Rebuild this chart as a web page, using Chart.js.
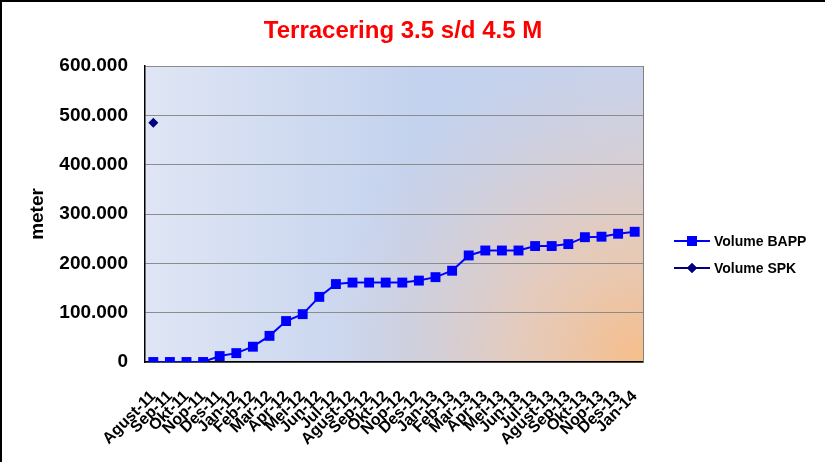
<!DOCTYPE html>
<html>
<head>
<meta charset="utf-8">
<script src="https://cdn.jsdelivr.net/npm/chart.js@4.4.0/dist/chart.umd.min.js"></script>
<style>
  html, body { margin: 0; padding: 0; background: #fff; }
  canvas { display: block; }
</style>
</head>
<body>
<canvas id="c" width="825" height="462"></canvas>
<script>
const categories = ["Agust-11","Sep-11","Okt-11","Nop-11","Des-11","Jan-12","Feb-12","Mar-12","Apr-12","Mei-12","Jun-12","Jul-12","Agust-12","Sep-12","Okt-12","Nop-12","Des-12","Jan-13","Feb-13","Mar-13","Apr-13","Mei-13","Jun-13","Jul-13","Agust-13","Sep-13","Okt-13","Nop-13","Des-13","Jan-14"];
const volumeBAPP = [0,0,0,0,12000,18000,31000,53000,83000,97000,132000,158000,161000,161000,161000,161000,165000,172000,185000,216000,226000,226000,226000,235000,235000,239000,253000,254000,260000,264000];
const volumeSPK = [485000,null,null,null,null,null,null,null,null,null,null,null,null,null,null,null,null,null,null,null,null,null,null,null,null,null,null,null,null,null];
const yTicks = [0,100000,200000,300000,400000,500000,600000];
const titleText = "Terracering 3.5 s/d 4.5 M";
const yTitle = "meter";

const FONT = "'Liberation Sans', Arial, sans-serif";

function fmt(v) {
  return String(v).replace(/\B(?=(\d{3})+(?!\d))/g, ".");
}

const bgPlugin = {
  id: 'bg',
  beforeDraw(chart) {
    const {ctx, chartArea: a} = chart;
    ctx.save();
    const lg = ctx.createLinearGradient(a.left, 0, a.right, 0);
    lg.addColorStop(0, '#dfe5f4');
    lg.addColorStop(0.55, '#c3d2ee');
    lg.addColorStop(1, '#c6d3ee');
    ctx.fillStyle = lg;
    ctx.fillRect(a.left, a.top, a.right - a.left, a.bottom - a.top);
    const rg = ctx.createRadialGradient(a.right, a.bottom, 0, a.right, a.bottom, 320);
    rg.addColorStop(0, 'rgba(247,189,136,1)');
    rg.addColorStop(0.4, 'rgba(238,200,172,0.75)');
    rg.addColorStop(1, 'rgba(225,205,205,0)');
    ctx.fillStyle = rg;
    ctx.fillRect(a.left, a.top, a.right - a.left, a.bottom - a.top);
    ctx.restore();
  },
  afterDatasetsDraw(chart) {
    const {ctx, chartArea: a} = chart;
    ctx.save();
    ctx.strokeStyle = '#808080';
    ctx.lineWidth = 1;
    ctx.beginPath();
    ctx.moveTo(a.right + 0.5, a.top);
    ctx.lineTo(a.right + 0.5, a.bottom);
    ctx.stroke();
    ctx.restore();
  },
  afterDraw(chart) {
    const ctx = chart.ctx;
    ctx.save();
    // frame
    ctx.fillStyle = '#000';
    ctx.fillRect(0, 0, 825, 2);
    ctx.fillRect(0, 0, 2, 462);
    // title
    ctx.fillStyle = '#ff0000';
    ctx.font = 'bold 24px ' + FONT;
    ctx.textAlign = 'center';
    ctx.textBaseline = 'middle';
    ctx.fillText(titleText, 403, 31);
    // legend
    const items = [
      {label: chart.data.datasets[0].label, color: '#0000ff', style: 'rect', r: 7, y: 241},
      {label: chart.data.datasets[1].label, color: '#000080', style: 'rectRot', r: 5, y: 268}
    ];
    items.forEach(it => {
      ctx.strokeStyle = it.color;
      ctx.lineWidth = 2;
      ctx.beginPath();
      ctx.moveTo(674, it.y);
      ctx.lineTo(710, it.y);
      ctx.stroke();
      ctx.fillStyle = it.color;
      Chart.helpers.drawPoint(ctx, {pointStyle: it.style, radius: it.r, borderWidth: 0}, 692, it.y);
      ctx.fill();
      ctx.fillStyle = '#000';
      ctx.font = 'bold 14px ' + FONT;
      ctx.textAlign = 'left';
      ctx.textBaseline = 'middle';
      ctx.fillText(it.label, 714, it.y + 1);
    });
    ctx.restore();
  }
};

new Chart(document.getElementById('c'), {
  type: 'line',
  data: {
    labels: categories,
    datasets: [
      {
        label: 'Volume BAPP',
        data: volumeBAPP,
        borderColor: '#0000ff',
        backgroundColor: '#0000ff',
        borderWidth: 2,
        pointStyle: 'rect',
        pointRadius: 7,
        pointBorderWidth: 0,
        pointBackgroundColor: '#0000ff',
        tension: 0,
        fill: false
      },
      {
        label: 'Volume SPK',
        data: volumeSPK,
        borderColor: '#000080',
        backgroundColor: '#000080',
        borderWidth: 2,
        pointStyle: 'rectRot',
        pointRadius: 5,
        pointBorderWidth: 0,
        pointBackgroundColor: '#000080',
        spanGaps: false,
        fill: false
      }
    ]
  },
  options: {
    responsive: false,
    animation: false,
    devicePixelRatio: 1,
    layout: { padding: { left: 0, right: 182, top: 66, bottom: 0 } },
    plugins: {
      legend: { display: false },
      tooltip: { enabled: false },
      title: { display: false }
    },
    scales: {
      x: {
        type: 'category',
        offset: true,
        grid: { display: false, drawTicks: false },
        border: { display: true, color: '#000', width: 1.5 },
        ticks: {
          autoSkip: false,
          maxRotation: 45,
          minRotation: 45,
          padding: 25,
          color: '#000',
          font: { family: FONT, size: 16, weight: 'bold' }
        },
        afterFit(s) { s.height = 100; }
      },
      y: {
        min: 0,
        max: 600000,
        afterBuildTicks(s) { s.ticks = yTicks.map(v => ({value: v})); },
        grid: { color: '#8c8c8c', lineWidth: 1, drawTicks: false },
        border: { display: true, color: '#000', width: 1.5 },
        ticks: {
          padding: 17,
          color: '#000',
          font: { family: FONT, size: 19, weight: 'bold' },
          callback: v => fmt(v)
        },
        title: {
          display: true,
          text: yTitle,
          color: '#000',
          font: { family: FONT, size: 19, weight: 'bold' },
          padding: { top: 26, bottom: 0 }
        },
        afterFit(s) { s.width = 145; }
      }
    }
  },
  plugins: [bgPlugin]
});
</script>
</body>
</html>
